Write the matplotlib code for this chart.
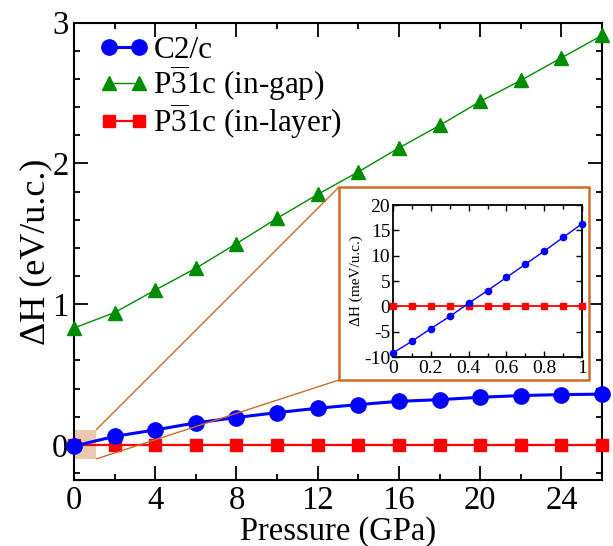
import matplotlib
matplotlib.use("Agg")
import matplotlib.pyplot as plt
from matplotlib.patches import Rectangle, ConnectionPatch
from matplotlib.ticker import MultipleLocator, FixedLocator

plt.rcParams['font.family'] = ['Liberation Serif', 'DejaVu Serif']
plt.rcParams['mathtext.fontset'] = 'custom'
plt.rcParams['mathtext.rm'] = 'Liberation Serif'
plt.rcParams['mathtext.it'] = 'Liberation Serif:italic'
plt.rcParams['axes.unicode_minus'] = False

# ---- data ----
pressure = [0, 2, 4, 6, 8, 10, 12, 14, 16, 18, 20, 22, 24, 26]
c2c = [-0.009, 0.06, 0.106, 0.156, 0.194, 0.229, 0.26, 0.286, 0.309, 0.321, 0.338, 0.35, 0.357, 0.36]
p31c_gap = [0.83, 0.94, 1.10, 1.255, 1.43, 1.61, 1.78, 1.94, 2.11, 2.27, 2.44, 2.59, 2.75, 2.91]
p31c_layer = [0.0] * 14

inset_p = [0.0, 0.1, 0.2, 0.3, 0.4, 0.5, 0.6, 0.7, 0.8, 0.9, 1.0]
inset_c2c = [-9.2, -6.9, -4.4, -2.0, 0.6, 3.1, 5.7, 8.3, 10.9, 13.6, 16.3]
inset_layer = [0.0] * 11

labels = ['C2/c', r'P$\overline{\mathrm{3}}$1c (in-gap)', r'P$\overline{\mathrm{3}}$1c (in-layer)']
blue, green, red = '#0000ff', '#008c00', '#ff0000'
orange = '#cd6a2c'

W, H = 613, 546
fig = plt.figure(figsize=(W / 100, H / 100), dpi=100)
ax = fig.add_axes([74 / W, 1 - 480 / H, (602 - 74) / W, (480 - 22.7) / H])

ax.plot(pressure, c2c, '-o', color=blue, lw=2.2, ms=11, clip_on=False, zorder=4, label=labels[0])
ax.plot(pressure, p31c_gap, '-^', color=green, lw=1.0, ms=10, clip_on=False, zorder=4, label=labels[1])
ax.plot(pressure, p31c_layer, '-s', color=red, lw=1.6, ms=8.5, clip_on=False, zorder=3, label=labels[2])

ax.set_xlim(0, 26)
ax.set_ylim(-0.25, 3.0)
ax.xaxis.set_major_locator(MultipleLocator(4))
ax.xaxis.set_minor_locator(MultipleLocator(2))
ax.yaxis.set_major_locator(MultipleLocator(1))
ax.yaxis.set_minor_locator(MultipleLocator(0.2))
ax.tick_params(which='both', direction='in', top=True, right=True, width=1.3)
ax.tick_params(which='major', length=10, labelsize=23.5, pad=4)
ax.tick_params(which='minor', length=4.5)
for s in ax.spines.values():
    s.set_linewidth(1.5)
ax.set_xlabel('Pressure (GPa)', fontsize=23.5, labelpad=0)
ax.set_ylabel('ΔH (eV/u.c.)', fontsize=26, labelpad=0)

leg = ax.legend(loc='upper left', bbox_to_anchor=(0.036, 0.985), frameon=False, fontsize=22.5,
                handlelength=1.58, handletextpad=0.15, labelspacing=-0.06, numpoints=2,
                borderaxespad=0, borderpad=0.2)

# shaded zoom region
ax.add_patch(Rectangle((0, -0.1), 1.1, 0.208, facecolor='#ebc9b0', edgecolor='none', zorder=2, clip_on=False))

# inset frame box (figure coordinates)
bx0, bx1 = 339 / W, 589 / W
by0, by1 = 1 - 380 / H, 1 - 187 / H
fig.add_artist(Rectangle((bx0, by0), bx1 - bx0, by1 - by0, transform=fig.transFigure,
                         facecolor='white', edgecolor=orange, lw=1.8, zorder=2))
for ya, yb in [(0.108, by1), (-0.1, by0)]:
    cp = ConnectionPatch(xyA=(1.1, ya), coordsA=ax.transData, xyB=(bx0, yb), coordsB=fig.transFigure,
                         color=orange, lw=1.0, zorder=3)
    fig.add_artist(cp)

# inset axes
axi = fig.add_axes([393 / W, 1 - 357 / H, (582 - 393) / W, (357 - 205) / H], zorder=5)
axi.plot(inset_p, inset_c2c, '-o', color=blue, lw=1.0, ms=4.5, clip_on=False, zorder=4)
axi.plot(inset_p, inset_layer, '-s', color=red, lw=1.3, ms=4, clip_on=False, zorder=3)
axi.set_xlim(0, 1)
axi.set_ylim(-10, 20)
axi.xaxis.set_major_locator(FixedLocator([0, 0.2, 0.4, 0.6, 0.8, 1.0]))
axi.xaxis.set_minor_locator(MultipleLocator(0.1))
axi.yaxis.set_major_locator(MultipleLocator(5))
axi.set_xticklabels(['0', '0.2', '0.4', '0.6', '0.8', '1'])
axi.tick_params(which='both', direction='in', top=True, right=True, width=1.0)
axi.tick_params(which='major', length=4, labelsize=14, pad=2)
axi.tick_params(which='minor', length=3)
for s in axi.spines.values():
    s.set_linewidth(1.3)
axi.set_ylabel('ΔH (meV/u.c.)', fontsize=11, labelpad=1)

fig.savefig('out.png', dpi=100)
